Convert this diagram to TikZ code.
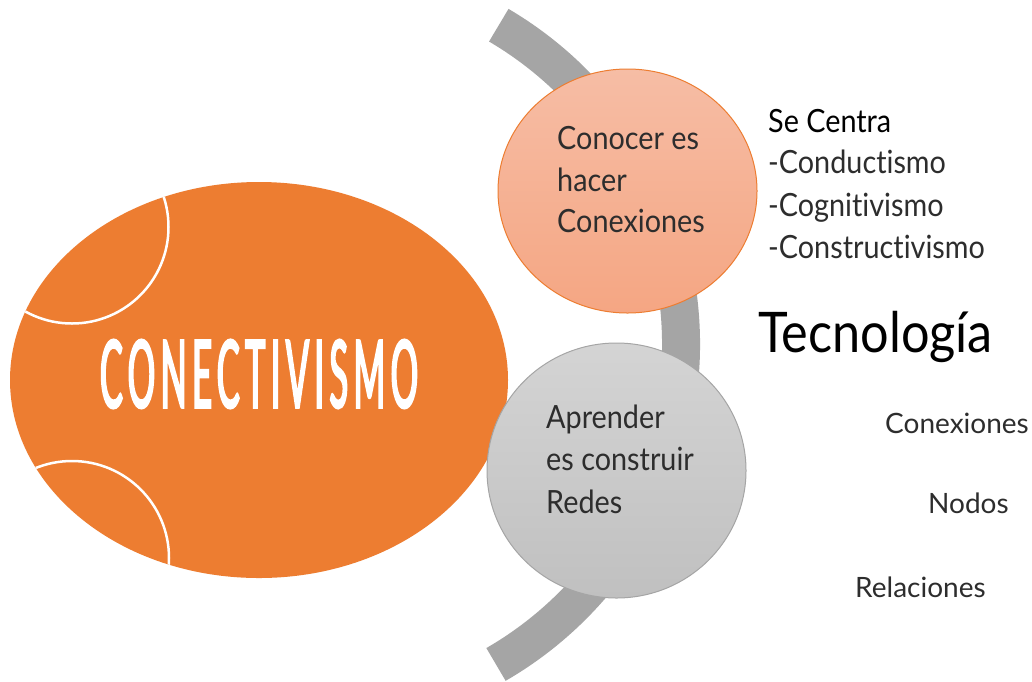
\documentclass[tikz,border=0pt]{standalone}
\usepackage{fontspec}
\setmainfont{Lato}[FakeStretch=0.9,Ligatures={NoCommon,NoDiscretionary,NoContextual}]
\newfontfamily\sidefont{Lato}[FakeStretch=1.0,Ligatures={NoCommon,NoDiscretionary,NoContextual}]
\newfontfamily\titlefont{Lato}[FakeStretch=0.5,LetterSpace=8,FakeBold=2.5]
\usetikzlibrary{shapes.geometric}
\definecolor{orng}{HTML}{ED7D31}
\definecolor{arcgray}{HTML}{A5A5A5}
\definecolor{salmontop}{RGB}{246,189,165}
\definecolor{salmonbot}{RGB}{245,166,131}
\definecolor{graytop}{RGB}{212,212,212}
\definecolor{graybot}{RGB}{192,192,192}
\definecolor{lighttext}{RGB}{45,45,45}
\tikzset{
  bubble/.style={ellipse, inner sep=0pt, line width=1pt},
  circtext/.style={anchor=base west, inner sep=0pt, font=\fontsize{32}{40}\selectfont, text=lighttext},
  listtext/.style={anchor=base west, inner sep=0pt, font=\fontsize{32}{40}\selectfont, text=lighttext},
  sidetext/.style={anchor=base west, inner sep=0pt, font=\sidefont\fontsize{28}{34}\selectfont, text=lighttext},
  whitearc/.style={draw=white, line width=2.5pt}
}
\begin{document}
\begin{tikzpicture}[x=1pt,y=1pt]
\useasboundingbox (0,0) rectangle (1032,-681);
\fill[white] (0,0) rectangle (1032,-681);
% grey arc
\coordinate (arcc) at (311,-344);
\draw[line width=38pt, arcgray] ([shift={(59.5:370)}]arcc) arc[start angle=59.5, end angle=-60, radius=370];
% big orange ellipse
\node[ellipse, fill=orng, minimum width=498pt, minimum height=396pt, inner sep=0pt] (conect) at (259,-380) {};
\begin{scope}
  \clip (259,-380) ellipse[x radius=249, y radius=198];
  \draw[whitearc] (72,-227) circle[radius=96.5];
  \draw[whitearc] (72,-558) circle[radius=97];
\end{scope}
\node[inner sep=0pt, text=white] (title) at (259,-374) {\resizebox{318pt}{68pt}{\titlefont\fontsize{94}{94}\selectfont CONECTIVISMO}};
% bubbles
\node[bubble, draw=orng, top color=salmontop, bottom color=salmonbot, minimum width=259pt, minimum height=244pt] (conocer) at (627.5,-191) {};
\node[bubble, draw=arcgray, top color=graytop, bottom color=graybot, minimum width=259pt, minimum height=255pt] (aprender) at (616.5,-470.5) {};
% bubble texts
\node[circtext] (c1) at (557,-149) {Conocer es};
\node[circtext] (c2) at (557,-191.5) {hacer};
\node[circtext] (c3) at (557,-232) {Conexiones};
\node[circtext] (a1) at (546,-428) {Aprender};
\node[circtext] (a2) at (546,-470) {es construir};
\node[circtext] (a3) at (546,-513) {Redes};
% right list
\node[listtext, text=black] (se) at (768,-132) {Se Centra};
\node[listtext] (l1) at (768,-173.5) {-Conductismo};
\node[listtext] (l2) at (768,-216) {-Cognitivismo};
\node[listtext] (l3) at (768,-258) {-Constructivismo};
\node[anchor=base west, inner sep=0pt, font=\fontsize{56}{60}\selectfont, text=black] (tec) at (758,-352) {Tecnología};
\node[sidetext] (s1) at (885,-433) {Conexiones};
\node[sidetext] (s2) at (928,-513) {Nodos};
\node[sidetext] (s3) at (855,-597) {Relaciones};
\end{tikzpicture}
\end{document}
